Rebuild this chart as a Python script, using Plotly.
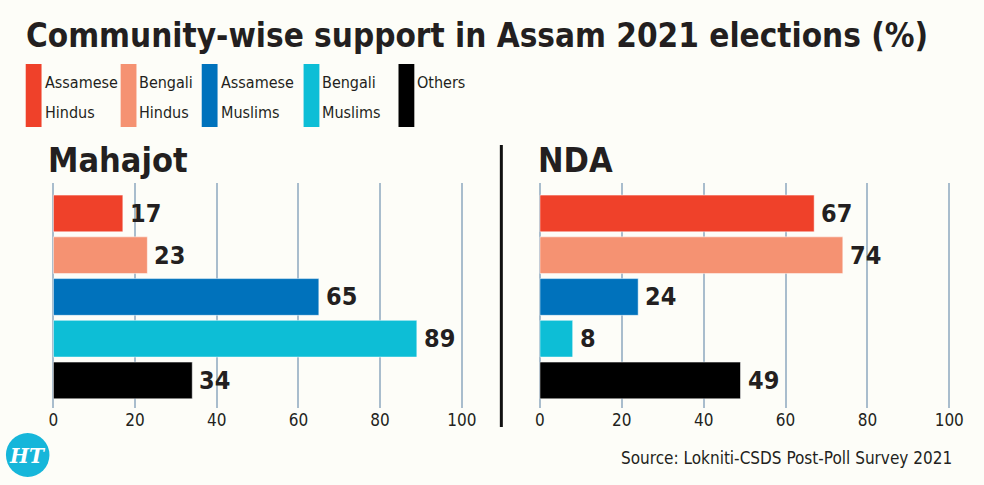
import plotly.graph_objects as go

communities = ["Assamese Hindus", "Bengali Hindus", "Assamese Muslims", "Bengali Muslims", "Others"]
legend_line1 = ["Assamese", "Bengali", "Assamese", "Bengali", "Others"]
legend_line2 = ["Hindus", "Hindus", "Muslims", "Muslims", ""]
mahajot = [17, 23, 65, 89, 34]
nda = [67, 74, 24, 8, 49]
colors = ["#EF412A", "#F59272", "#0072BC", "#0DBED6", "#000000"]
tick_vals = [0, 20, 40, 60, 80, 100]
title = "Community-wise support in Assam 2021 elections (%)"
panel_titles = ["Mahajot", "NDA"]
source = "Source: Lokniti-CSDS Post-Poll Survey 2021"

W, H = 984, 485
BG = "#FDFDF8"
GRID = "#A9BDCD"
FONT = "DejaVu Sans Condensed, DejaVu Sans, sans-serif"
TXT = "#231F20"

def px(x):
    return x / W

def py(y):
    return 1 - y / H

fig = go.Figure()
for i, vals in enumerate([mahajot, nda]):
    ax = "" if i == 0 else "2"
    fig.add_trace(go.Bar(
        x=vals, y=communities, orientation="h",
        marker=dict(color=colors, line=dict(color="rgba(255,255,255,0.5)", width=1)),
        width=0.88, xaxis="x" + ax, yaxis="y" + ax,
        showlegend=False, hoverinfo="x+y",
    ))
    for c, v in zip(communities, vals):
        fig.add_annotation(x=v, y=c, xref="x" + ax, yref="y" + ax, text=str(v),
                           showarrow=False, xanchor="left", xshift=5,
                           font=dict(family=FONT, size=25, color=TXT, weight="bold"))

axis_common = dict(range=[-1, 101], tickvals=tick_vals, showgrid=True, gridcolor=GRID,
                   gridwidth=1.5, zeroline=False, showline=False, ticks="",
                   tickfont=dict(family=FONT, size=17, color=TXT), fixedrange=True)
yaxis_common = dict(categoryorder="array", categoryarray=communities, range=[4.66, -0.73],
                    showticklabels=False, showgrid=False, zeroline=False, showline=False,
                    domain=[py(408), py(183)], fixedrange=True)

fig.update_layout(
    width=W, height=H, margin=dict(l=0, r=0, t=0, b=0),
    paper_bgcolor=BG, plot_bgcolor=BG,
    xaxis=dict(domain=[px(48.9), px(470.1)], anchor="y", **axis_common),
    xaxis2=dict(domain=[px(540.9), px(963.1)], anchor="y2", **axis_common),
    yaxis=dict(anchor="x", **yaxis_common),
    yaxis2=dict(anchor="x2", **yaxis_common),
    bargap=0.1,
)

# Title
fig.add_annotation(x=px(23), y=py(36), xref="paper", yref="paper", text=title, showarrow=False,
                   xanchor="left", yanchor="middle",
                   font=dict(family=FONT, size=33, color=TXT, weight="bold"))

# Legend
leg_x = [25, 121, 203, 306, 402]
for i in range(len(communities)):
    x0 = leg_x[i]
    fig.add_shape(type="rect", xref="paper", yref="paper", x0=px(x0), x1=px(x0 + 16),
                  y0=py(127), y1=py(64), fillcolor=colors[i], line=dict(width=0))
    fig.add_annotation(x=px(x0 + 17), y=py(82), xref="paper", yref="paper", text=legend_line1[i],
                       showarrow=False, xanchor="left", yanchor="middle",
                       font=dict(family=FONT, size=16, color=TXT))
    if legend_line2[i]:
        fig.add_annotation(x=px(x0 + 17), y=py(112), xref="paper", yref="paper", text=legend_line2[i],
                           showarrow=False, xanchor="left", yanchor="middle",
                           font=dict(family=FONT, size=16, color=TXT))

# Panel titles
for xp, t in zip([46, 541], panel_titles):
    fig.add_annotation(x=px(xp), y=py(160), xref="paper", yref="paper", text=t, showarrow=False,
                       xanchor="left", yanchor="middle",
                       font=dict(family=FONT, size=34, color=TXT, weight="bold"))

# Divider
fig.add_shape(type="line", xref="paper", yref="paper", x0=px(506), x1=px(506),
              y0=py(427), y1=py(145), line=dict(color="#111111", width=3))

# Source
fig.add_annotation(x=px(964), y=py(458), xref="paper", yref="paper", text=source, showarrow=False,
                   xanchor="right", yanchor="middle",
                   font=dict(family=FONT, size=17, color=TXT))

# HT logo
fig.add_shape(type="circle", xref="paper", yref="paper", x0=px(5), x1=px(49),
              y0=py(477), y1=py(433), fillcolor="#16B6DA", line=dict(width=0))
fig.add_annotation(x=px(27), y=py(456), xref="paper", yref="paper", text="<b><i>HT</i></b>",
                   showarrow=False, xanchor="center", yanchor="middle",
                   font=dict(family="DejaVu Serif", size=20, color="white"))

post = """
document.documentElement.style.margin='0';document.documentElement.style.padding='0';
document.body.style.margin='0';document.body.style.padding='0';
"""
fig.write_html("out.html", post_script=post)
